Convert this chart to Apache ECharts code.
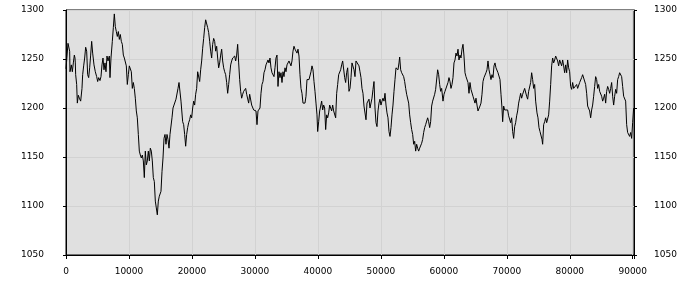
<!DOCTYPE html>
<html><head><meta charset="utf-8">
<script src="https://cdn.jsdelivr.net/npm/echarts@6/dist/echarts.min.js"></script>
<style>html,body{margin:0;padding:0;background:#fff}#c{width:700px;height:300px}</style>
</head><body><div id="c"></div>
<script>
const xs = [0,105,317,476,582,635,846,1005,1164,1323,1429,1480,1535,1693,1799,1958,2117,2329,2540,2646,2805,2964,3122,3281,3440,3599,3758,3916,4075,4234,4446,4657,4869,5028,5187,5398,5557,5716,5875,6034,6192,6351,6510,6669,6880,6986,7145,7357,7516,7674,7833,7992,8151,8310,8469,8627,8786,8945,9104,9263,9421,9580,9739,9898,10056,10215,10374,10533,10692,10850,11009,11168,11327,11486,11644,11803,11962,12121,12280,12438,12597,12756,12915,13073,13232,13391,13550,13709,13867,14026,14185,14344,14503,14661,14820,
15086,15245,15404,15563,15722,15880,16039,16198,16357,16515,16674,16833,16992,17151,17309,17468,17627,17786,17945,18103,18262,18421,18527,18686,18844,19003,19162,19321,19480,19638,19797,19956,20115,20274,20432,20591,20750,20909,21067,21226,21385,21544,21703,21861,22020,22179,22338,22497,22655,22814,22973,23132,23291,23449,23608,23767,23926,24084,24243,24402,24561,24720,24878,25037,25196,25355,25514,25672,25831,25990,26149,26308,26466,26625,26784,26943,27101,27260,27419,27578,27737,27895,28054,28213,28372,28531,28689,28848,29007,29166,29325,29483,29642,29801,
30013,30172,30331,30490,30649,30807,30966,31125,31284,31442,31601,31760,31919,32078,32236,32395,32554,32713,32872,33030,33189,33348,33507,33666,33824,33983,34142,34301,34459,34618,34777,34936,35095,35253,35412,35571,35730,35889,36047,36206,36365,36524,36683,36841,37000,37159,37318,37476,37635,37794,37953,38112,38270,38429,38588,38747,38906,39064,39223,39382,39541,39700,39858,39964,40123,40282,40441,40600,40758,40917,41076,41235,41394,41552,41711,41870,42029,42187,42346,42505,42664,42823,42981,43140,43299,43458,43617,43775,43934,44093,44252,44410,44569,44728,
44940,45099,45258,45417,45575,45734,45893,46052,46211,46369,46528,46687,46846,47005,47163,47322,47481,47640,47798,47957,48116,48275,48434,48592,48751,48910,49069,49228,49386,49545,49704,49863,50022,50180,50339,50498,50657,50816,50974,51133,51292,51451,51609,51768,51927,52086,52245,52403,52562,52721,52880,52986,53145,53303,53462,53621,53780,53939,54097,54256,54415,54574,54733,54891,55050,55209,55368,55527,55685,55844,56003,56162,56321,56479,56638,56797,56956,57114,57273,57432,57591,57750,57908,58067,58226,58385,58544,58702,58861,59020,59179,59338,59496,59655,
59867,60026,60185,60344,60502,60661,60820,60979,61138,61296,61455,61614,61773,61932,62090,62249,62408,62567,62726,62884,63043,63202,63361,63519,63678,63837,63996,64155,64313,64472,64631,64790,64949,65107,65266,65425,65584,65743,65901,66060,66219,66378,66537,66695,66854,67013,67172,67331,67489,67648,67807,67966,68125,68283,68442,68601,68760,68918,69077,69236,69342,69501,69660,69818,69977,70136,70295,70454,70612,70771,70930,71089,71248,71406,71565,71724,71883,72041,72200,72359,72518,72677,72835,72994,73153,73312,73471,73629,73788,73947,74106,74265,74423,74582,
74794,74953,75112,75271,75430,75588,75694,75853,76012,76171,76329,76488,76647,76806,76965,77123,77282,77441,77600,77759,77917,78076,78235,78394,78552,78711,78870,79029,79188,79346,79505,79664,79823,79982,80140,80299,80458,80617,80775,80934,81093,81252,81411,81569,81728,81887,82046,82205,82363,82522,82681,82840,82999,83157,83316,83475,83634,83792,83951,84110,84269,84428,84586,84745,84904,85063,85222,85380,85539,85698,85857,86016,86174,86333,86492,86651,86809,86968,87127,87286,87445,87603,87762,87921,88080,88239,88397,88556,88715,88874,89033,89191,89350,89509,89668,89827,89986,90144];
const ys = [1240,1241,1266,1265,1258,1237,1244,1237,1246,1254,1251,1246,1234,1224,1205,1213,1210,1207,1220,1234,1243,1251,1262,1258,1234,1231,1241,1254,1268,1256,1244,1237,1232,1227,1231,1228,1232,1244,1251,1239,1246,1237,1253,1248,1253,1231,1251,1268,1282,1296,1283,1278,1273,1278,1270,1275,1268,1265,1254,1251,1253,1243,1224,1234,1243,1244,1237,1220,1226,1220,1210,1197,1190,1173,1156,1152,1149,1152,1146,1129,1156,1142,1146,1156,1146,1159,1156,1146,1129,1125,1105,1098,1091,1105,1110,
1115,1135,1149,1169,1173,1163,1173,1168,1159,1173,1173,1190,1200,1203,1205,1209,1210,1220,1226,1227,1207,1207,1186,1183,1173,1161,1173,1180,1185,1188,1193,1190,1200,1207,1203,1214,1220,1237,1239,1227,1239,1248,1261,1271,1282,1290,1288,1282,1277,1268,1258,1251,1265,1271,1268,1258,1263,1251,1241,1246,1254,1260,1248,1241,1237,1234,1226,1215,1224,1234,1244,1248,1251,1249,1253,1248,1254,1265,1246,1229,1217,1210,1214,1217,1219,1220,1214,1212,1205,1214,1212,1203,1205,1198,
1200,1197,1183,1197,1195,1200,1215,1224,1227,1236,1239,1244,1246,1249,1246,1251,1241,1236,1237,1232,1241,1251,1254,1222,1237,1231,1236,1226,1237,1232,1241,1237,1244,1243,1248,1246,1243,1248,1258,1263,1260,1261,1256,1260,1253,1234,1220,1215,1205,1203,1205,1212,1229,1231,1229,1231,1237,1243,1239,1227,1217,1205,1193,1176,1186,1197,1202,1207,1198,1203,1200,1178,1193,1190,1195,1203,1200,1197,1203,1197,1195,1190,1215,1224,1234,1232,1239,1244,1248,1249,1231,1226,1236,1241,
1217,1220,1231,1246,1248,1239,1232,1248,1249,1249,1243,1237,1231,1220,1215,1202,1200,1188,1205,1207,1209,1200,1202,1210,1219,1227,1200,1185,1181,1197,1205,1209,1203,1207,1210,1207,1215,1203,1195,1190,1176,1171,1180,1193,1203,1217,1229,1241,1243,1239,1246,1252,1239,1236,1236,1232,1227,1220,1214,1212,1205,1193,1185,1178,1173,1163,1166,1156,1163,1159,1156,1159,1161,1164,1168,1175,1180,1183,1185,1190,1186,1180,1186,1202,1207,1209,1214,1219,1220,1239,1234,1224,1217,1220,
1207,1214,1217,1219,1215,1226,1231,1227,1220,1224,1231,1246,1249,1256,1253,1260,1249,1254,1251,1260,1265,1253,1236,1232,1231,1226,1215,1226,1219,1217,1212,1210,1205,1210,1203,1197,1198,1202,1205,1214,1227,1231,1232,1236,1239,1248,1239,1234,1229,1234,1231,1243,1246,1241,1243,1236,1234,1229,1214,1200,1186,1202,1198,1200,1197,1198,1192,1190,1185,1190,1176,1169,1181,1185,1192,1197,1205,1210,1215,1210,1214,1215,1220,1219,1212,1209,1217,1217,1226,1236,1229,1220,1224,1207,
1195,1190,1180,1176,1175,1168,1163,1183,1186,1190,1185,1186,1193,1207,1224,1243,1251,1246,1249,1253,1254,1248,1243,1249,1246,1243,1249,1243,1236,1244,1236,1249,1241,1237,1222,1219,1226,1220,1222,1220,1224,1220,1222,1226,1227,1231,1234,1236,1234,1224,1215,1202,1200,1197,1190,1198,1203,1212,1222,1232,1229,1220,1224,1217,1215,1212,1207,1210,1214,1205,1217,1222,1219,1215,1220,1226,1212,1203,1212,1219,1215,1229,1232,1236,1237,1232,1222,1212,1214,1207,1183,1175,1176,1171,1175,1169,1185,1200];
const xMin = 0, xMax = 90200, xStep = 10000;
const yMin = 1050, yMax = 1300, yStep = 50;

const chart = echarts.init(document.getElementById('c'), null, {renderer: 'canvas'});
const font = {fontFamily: 'DejaVu Sans', fontSize: 9, color: '#000'};
const yAxisBase = {
  type: 'value', min: yMin, max: yMax, interval: yStep,
  axisLine: {show: true, lineStyle: {color: '#000', width: 1}},
  axisTick: {show: true, length: 3, lineStyle: {color: '#000'}}
};
chart.setOption({
  animation: false,
  backgroundColor: '#ffffff',
  grid: {left: 66, right: 66, top: 10, bottom: 45, show: true, backgroundColor: '#e0e0e0', borderColor: '#000', borderWidth: 1, containLabel: false},
  xAxis: {
    type: 'value', min: xMin, max: xMax, interval: xStep,
    axisLine: {show: true, onZero: false, lineStyle: {color: '#000', width: 1}},
    axisTick: {show: true, length: 4, lineStyle: {color: '#000'}},
    axisLabel: Object.assign({}, font, {margin: 12, formatter: v => (v % xStep === 0 ? String(v) : '')}),
    splitLine: {show: true, lineStyle: {color: '#d2d2d2', width: 1}}
  },
  yAxis: [
    Object.assign({}, yAxisBase, {position: 'left',
      axisLabel: Object.assign({}, font, {margin: 22, formatter: v => String(v)}),
      splitLine: {show: true, lineStyle: {color: '#d2d2d2', width: 1}}}),
    Object.assign({}, yAxisBase, {position: 'right',
      axisLabel: Object.assign({}, font, {margin: 20, formatter: v => String(v)}),
      splitLine: {show: false}})
  ],
  series: [{
    type: 'line', yAxisIndex: 0,
    data: xs.map((x, i) => [x, ys[i]]),
    symbol: 'none', showSymbol: false,
    lineStyle: {color: '#000', width: 1}
  }]
});
</script>
</body></html>
